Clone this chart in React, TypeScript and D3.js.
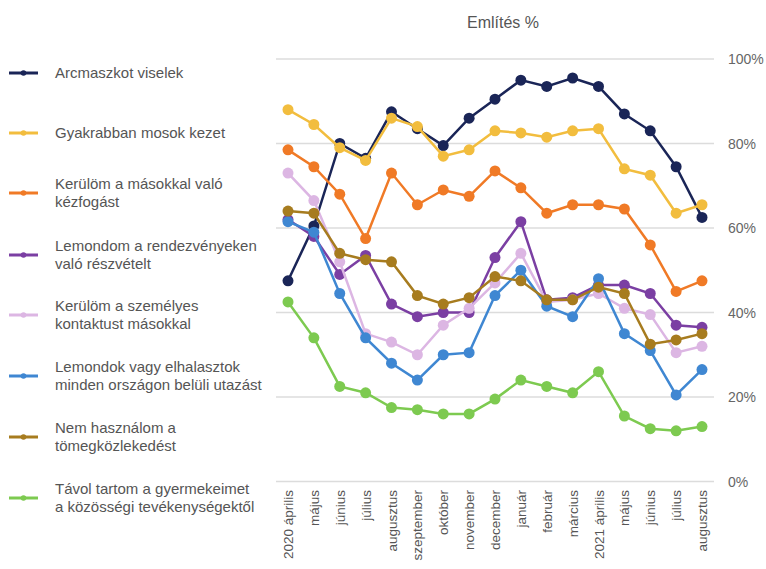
import React from "react";
import * as d3 from "d3";

const months = [
  "2020 április", "május", "június", "július", "augusztus", "szeptember", "október",
  "november", "december", "január", "február", "március", "2021 április", "május ",
  "június ", "július ", "augusztus ",
];

const seriesNames = [
  ["Arcmaszkot viselek"],
  ["Gyakrabban mosok kezet"],
  ["Kerülöm a másokkal való", "kézfogást"],
  ["Lemondom a rendezvényeken", "való részvételt"],
  ["Kerülöm a személyes", "kontaktust másokkal"],
  ["Lemondok vagy elhalasztok", "minden országon belüli utazást"],
  ["Nem használom a", "tömegközlekedést"],
  ["Távol tartom a gyermekeimet", "a közösségi tevékenységektől"],
];

const seriesColors = ["#1a2557", "#f2bd3e", "#f07a26", "#7b3fa3", "#dcb6e3", "#3f87d2", "#a77c1f", "#7dca50"];

const maszk = [47.5, 60.5, 80, 76.5, 87.5, 83.5, 79.5, 86, 90.5, 95, 93.5, 95.5, 93.5, 87, 83, 74.5, 62.5];
const kezmosas = [88, 84.5, 79, 76, 86, 84, 77, 78.5, 83, 82.5, 81.5, 83, 83.5, 74, 72.5, 63.5, 65.5];
const kezfogas = [78.5, 74.5, 68, 57.5, 73, 65.5, 69, 67.5, 73.5, 69.5, 63.5, 65.5, 65.5, 64.5, 56, 45, 47.5];
const rendezveny = [62, 58, 49, 53.5, 42, 39, 40, 40, 53, 61.5, 43, 43.5, 46.5, 46.5, 44.5, 37, 36.5];
const kontaktus = [73, 66.5, 52, 35, 33, 30, 37, 41, 47, 54, 42.5, 43, 44.5, 41, 39.5, 30.5, 32];
const utazas = [61.5, 59, 44.5, 34, 28, 24, 30, 30.5, 44, 50, 41.5, 39, 48, 35, 31, 20.5, 26.5];
const tomeg = [64, 63.5, 54, 52.5, 52, 44, 42, 43.5, 48.5, 47.5, 43, 43, 46, 44.5, 32.5, 33.5, 35];
const gyerek = [42.5, 34, 22.5, 21, 17.5, 17, 16, 16, 19.5, 24, 22.5, 21, 26, 15.5, 12.5, 12, 13];

const seriesValues = [maszk, kezmosas, kezfogas, rendezveny, kontaktus, utazas, tomeg, gyerek];

const yTicks = [0, 20, 40, 60, 80, 100];

const legendY = [73, 133, 193, 255, 315, 376, 437, 498];

export default function App() {
  const W = 766, H = 569;
  const x = d3.scalePoint<string>().domain(months).range([288, 702]);
  const y = d3.scaleLinear().domain([0, 100]).range([481.5, 59]);
  const line = d3.line<number>().x((_, i) => x(months[i]) as number).y((d) => y(d));
  const font = "'Liberation Sans', Arial, sans-serif";

  return (
    <svg width={W} height={H} style={{ position: "absolute", left: 0, top: 0, background: "#fff" }} fontFamily={font}>
      <text x={503} y={28} textAnchor="middle" fontSize={16} fill="#555">Említés %</text>
      {yTicks.map((t) => (
        <g key={t}>
          <line x1={276} x2={714} y1={y(t)} y2={y(t)} stroke="#dcdcdc" strokeWidth={1.5} />
          <text x={728} y={y(t) + 5} fontSize={14} fill="#666">{t}%</text>
        </g>
      ))}
      {months.map((m) => (
        <text key={m} transform={`translate(${(x(m) as number) + 5},490) rotate(-90)`} textAnchor="end" fontSize={13.5} fill="#555">
          {m.trim()}
        </text>
      ))}
      {seriesValues.map((vals, si) => (
        <g key={si}>
          <path d={line(vals) || ""} fill="none" stroke={seriesColors[si]} strokeWidth={2.5} />
          {vals.map((v, i) => (
            <circle key={i} cx={x(months[i]) as number} cy={y(v)} r={5.5} fill={seriesColors[si]} />
          ))}
        </g>
      ))}
      {seriesNames.map((lines, si) => {
        const cy = legendY[si];
        const startY = cy - ((lines.length - 1) * 18) / 2;
        return (
          <g key={si}>
            <line x1={9} x2={38} y1={cy} y2={cy} stroke={seriesColors[si]} strokeWidth={3} />
            <circle cx={23.5} cy={cy} r={2.8} fill={seriesColors[si]} />
            {lines.map((t, li) => (
              <text key={li} x={55} y={startY + li * 18 + 5} fontSize={15} fill="#555">{t}</text>
            ))}
          </g>
        );
      })}
    </svg>
  );
}
